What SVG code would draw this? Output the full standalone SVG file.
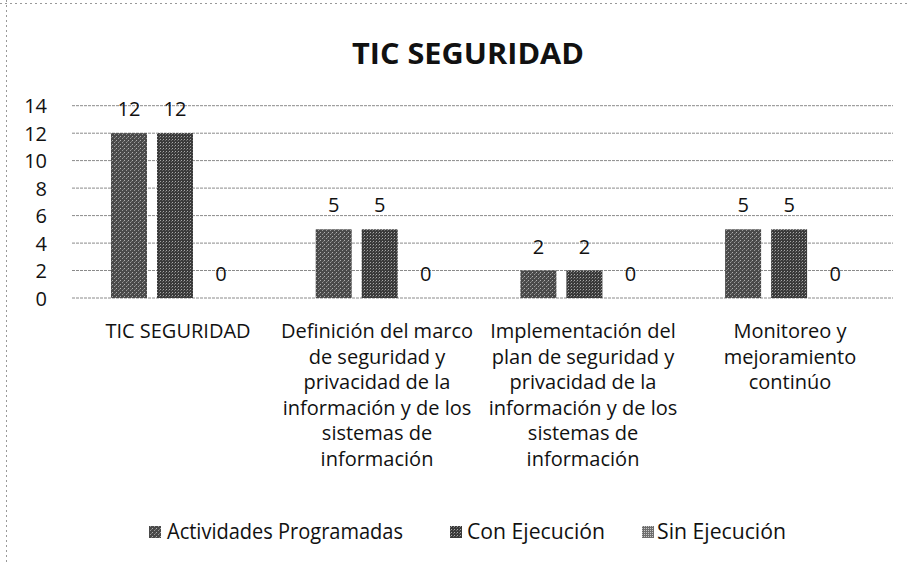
<svg xmlns="http://www.w3.org/2000/svg" width="910" height="565" viewBox="0 0 910 565">
<style>
text{font-family:"Open Sans","Liberation Sans",sans-serif;fill:#111}
.t{font-size:20px;text-anchor:middle}
.ax{font-size:20px;text-anchor:end}
.v{font-size:20px;text-anchor:middle}
.lg{font-size:21px}
.grid line{stroke:#8a8a8a;stroke-width:1;stroke-dasharray:3 1}
.b1{fill:url(#p1)}
.b2{fill:url(#p2)}
.b3{fill:url(#p3)}
</style>
<defs>
<pattern id="p1" width="4" height="4" patternUnits="userSpaceOnUse">
<rect width="4" height="4" fill="#4a4a4a"/>
<rect x="0" y="0" width="1" height="1" fill="#b0b0b0"/>
<rect x="2" y="2" width="1" height="1" fill="#9a9a9a"/>
<rect x="3" y="1" width="1" height="1" fill="#777"/>
</pattern>
<pattern id="p2" width="3" height="3" patternUnits="userSpaceOnUse">
<rect width="3" height="3" fill="#3a3a3a"/>
<rect x="1" y="1" width="1" height="1" fill="#a8a8a8"/>
<rect x="0" y="2" width="1" height="1" fill="#6a6a6a"/>
</pattern>
<pattern id="p3" width="2" height="2" patternUnits="userSpaceOnUse">
<rect width="2" height="2" fill="#6e6e6e"/>
<rect x="0" y="0" width="1" height="1" fill="#c8c8c8"/>
</pattern>
</defs>
<rect width="910" height="565" fill="#fff"/>
<g id="frame" stroke="#999" stroke-width="1" fill="none" stroke-dasharray="2 3">
<line x1="0" y1="3.5" x2="910" y2="3.5"/>
<line x1="6.5" y1="0" x2="6.5" y2="565"/>
</g>
<text id="title" x="468" y="64" text-anchor="middle" font-size="28" font-weight="bold" textLength="232" lengthAdjust="spacingAndGlyphs">TIC SEGURIDAD</text>
<g class="grid" id="gridlines">
<line x1="72" y1="105.7" x2="893" y2="105.7"/>
<line x1="72" y1="133.2" x2="893" y2="133.2"/>
<line x1="72" y1="160.6" x2="893" y2="160.6"/>
<line x1="72" y1="188.1" x2="893" y2="188.1"/>
<line x1="72" y1="215.6" x2="893" y2="215.6"/>
<line x1="72" y1="243.1" x2="893" y2="243.1"/>
<line x1="72" y1="270.5" x2="893" y2="270.5"/>
<line x1="72" y1="298" x2="893" y2="298"/>
</g>
<g id="yaxis">
<text class="ax" x="47" y="113">14</text>
<text class="ax" x="47" y="140.5">12</text>
<text class="ax" x="47" y="168">10</text>
<text class="ax" x="47" y="195.5">8</text>
<text class="ax" x="47" y="223">6</text>
<text class="ax" x="47" y="250.5">4</text>
<text class="ax" x="47" y="278">2</text>
<text class="ax" x="47" y="305.5">0</text>
</g>
<g id="cat1">
<rect class="b1" x="111" y="133.1" width="36" height="164.9"/>
<rect class="b2" x="157" y="133.1" width="36" height="164.9"/>
<text class="v" x="129" y="116">12</text>
<text class="v" x="175" y="116">12</text>
<text class="v" x="221" y="281">0</text>
<text class="t" x="178" y="338">TIC SEGURIDAD</text>
</g>
<g id="cat2">
<rect class="b1" x="315.7" y="229.3" width="36" height="68.7"/>
<rect class="b2" x="361.7" y="229.3" width="36" height="68.7"/>
<text class="v" x="333.7" y="212">5</text>
<text class="v" x="379.7" y="212">5</text>
<text class="v" x="425.7" y="281">0</text>
<text class="t" x="377" y="338">Definición del marco</text>
<text class="t" x="377" y="363.6">de seguridad y</text>
<text class="t" x="377" y="389.2">privacidad de la</text>
<text class="t" x="377" y="414.8">información y de los</text>
<text class="t" x="377" y="440.4">sistemas de</text>
<text class="t" x="377" y="466">información</text>
</g>
<g id="cat3">
<rect class="b1" x="520.4" y="270.5" width="36" height="27.5"/>
<rect class="b2" x="566.4" y="270.5" width="36" height="27.5"/>
<text class="v" x="538.4" y="253.5">2</text>
<text class="v" x="584.4" y="253.5">2</text>
<text class="v" x="630.4" y="281">0</text>
<text class="t" x="583" y="338">Implementación del</text>
<text class="t" x="583" y="363.6">plan de seguridad y</text>
<text class="t" x="583" y="389.2">privacidad de la</text>
<text class="t" x="583" y="414.8">información y de los</text>
<text class="t" x="583" y="440.4">sistemas de</text>
<text class="t" x="583" y="466">información</text>
</g>
<g id="cat4">
<rect class="b1" x="725.1" y="229.3" width="36" height="68.7"/>
<rect class="b2" x="771.1" y="229.3" width="36" height="68.7"/>
<text class="v" x="743.1" y="212">5</text>
<text class="v" x="789.1" y="212">5</text>
<text class="v" x="835.1" y="281">0</text>
<text class="t" x="790" y="338">Monitoreo y</text>
<text class="t" x="790" y="363.6">mejoramiento</text>
<text class="t" x="790" y="389.2">continúo</text>
</g>
<g id="legend">
<rect class="b1" x="149" y="526" width="12" height="12"/>
<text class="lg" x="167" y="539" textLength="236" lengthAdjust="spacingAndGlyphs">Actividades Programadas</text>
<rect class="b2" x="450" y="526" width="12" height="12"/>
<text class="lg" x="467" y="539" textLength="138" lengthAdjust="spacingAndGlyphs">Con Ejecución</text>
<rect class="b3" x="642" y="526" width="12" height="12"/>
<text class="lg" x="657" y="539" textLength="129" lengthAdjust="spacingAndGlyphs">Sin Ejecución</text>
</g>
</svg>
